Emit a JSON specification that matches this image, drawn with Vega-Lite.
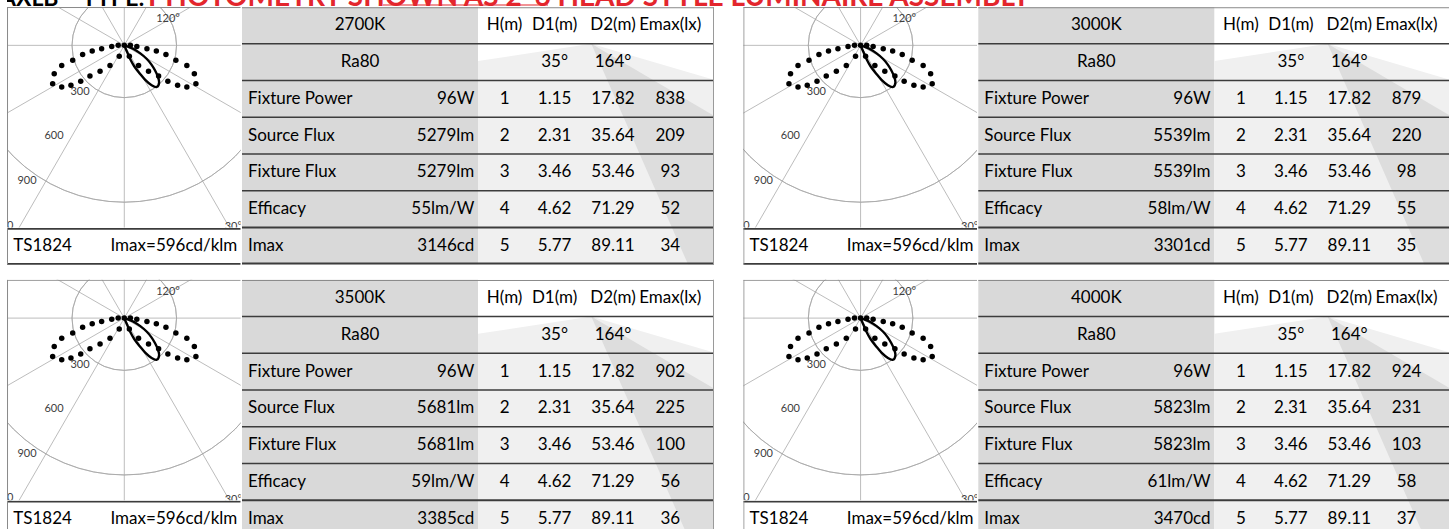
{
"$schema":"https://vega.github.io/schema/vega-lite/v6.json",
"padding":{"left":7,"top":0,"right":0,"bottom":0},
"background":"white",
"config":{"view":{"stroke":null},"font":"Lato","text":{"font":"Lato"}},
"datasets":{
"cells":[
{"p":"2700K","row":1,"label":"2700K","H":"H(m)","D1":"D1(m)","D2":"D2(m)","Emax":"Emax(lx)"},
{"p":"2700K","row":2,"label":"Ra80","D1":"35°","D2":"164°"},
{"p":"2700K","row":3,"label":"Fixture Power","value":"96W","H":1,"D1":1.15,"D2":17.82,"Emax":838},
{"p":"2700K","row":4,"label":"Source Flux","value":"5279lm","H":2,"D1":2.31,"D2":35.64,"Emax":209},
{"p":"2700K","row":5,"label":"Fixture Flux","value":"5279lm","H":3,"D1":3.46,"D2":53.46,"Emax":93},
{"p":"2700K","row":6,"label":"Efficacy","value":"55lm/W","H":4,"D1":4.62,"D2":71.29,"Emax":52},
{"p":"2700K","row":7,"label":"Imax","value":"3146cd","H":5,"D1":5.77,"D2":89.11,"Emax":34},
{"p":"3000K","row":1,"label":"3000K","H":"H(m)","D1":"D1(m)","D2":"D2(m)","Emax":"Emax(lx)"},
{"p":"3000K","row":2,"label":"Ra80","D1":"35°","D2":"164°"},
{"p":"3000K","row":3,"label":"Fixture Power","value":"96W","H":1,"D1":1.15,"D2":17.82,"Emax":879},
{"p":"3000K","row":4,"label":"Source Flux","value":"5539lm","H":2,"D1":2.31,"D2":35.64,"Emax":220},
{"p":"3000K","row":5,"label":"Fixture Flux","value":"5539lm","H":3,"D1":3.46,"D2":53.46,"Emax":98},
{"p":"3000K","row":6,"label":"Efficacy","value":"58lm/W","H":4,"D1":4.62,"D2":71.29,"Emax":55},
{"p":"3000K","row":7,"label":"Imax","value":"3301cd","H":5,"D1":5.77,"D2":89.11,"Emax":35},
{"p":"3500K","row":1,"label":"3500K","H":"H(m)","D1":"D1(m)","D2":"D2(m)","Emax":"Emax(lx)"},
{"p":"3500K","row":2,"label":"Ra80","D1":"35°","D2":"164°"},
{"p":"3500K","row":3,"label":"Fixture Power","value":"96W","H":1,"D1":1.15,"D2":17.82,"Emax":902},
{"p":"3500K","row":4,"label":"Source Flux","value":"5681lm","H":2,"D1":2.31,"D2":35.64,"Emax":225},
{"p":"3500K","row":5,"label":"Fixture Flux","value":"5681lm","H":3,"D1":3.46,"D2":53.46,"Emax":100},
{"p":"3500K","row":6,"label":"Efficacy","value":"59lm/W","H":4,"D1":4.62,"D2":71.29,"Emax":56},
{"p":"3500K","row":7,"label":"Imax","value":"3385cd","H":5,"D1":5.77,"D2":89.11,"Emax":36},
{"p":"4000K","row":1,"label":"4000K","H":"H(m)","D1":"D1(m)","D2":"D2(m)","Emax":"Emax(lx)"},
{"p":"4000K","row":2,"label":"Ra80","D1":"35°","D2":"164°"},
{"p":"4000K","row":3,"label":"Fixture Power","value":"96W","H":1,"D1":1.15,"D2":17.82,"Emax":924},
{"p":"4000K","row":4,"label":"Source Flux","value":"5823lm","H":2,"D1":2.31,"D2":35.64,"Emax":231},
{"p":"4000K","row":5,"label":"Fixture Flux","value":"5823lm","H":3,"D1":3.46,"D2":53.46,"Emax":103},
{"p":"4000K","row":6,"label":"Efficacy","value":"61lm/W","H":4,"D1":4.62,"D2":71.29,"Emax":58},
{"p":"4000K","row":7,"label":"Imax","value":"3470cd","H":5,"D1":5.77,"D2":89.11,"Emax":37}
],
"footer":[
{"p":"2700K","code":"TS1824","imaxrel":"Imax=596cd/klm"},
{"p":"3000K","code":"TS1824","imaxrel":"Imax=596cd/klm"},
{"p":"3500K","code":"TS1824","imaxrel":"Imax=596cd/klm"},
{"p":"4000K","code":"TS1824","imaxrel":"Imax=596cd/klm"}
],
"rings":[{"r":300},{"r":600},{"r":900},{"r":1200}],
"rays":[
{"x":0,"y":-2000,"x2":0,"y2":2000},
{"x":1000,"y":-1732,"x2":-1000,"y2":1732},
{"x":1732,"y":-1000,"x2":-1732,"y2":1000},
{"x":2000,"y":0,"x2":-2000,"y2":0},
{"x":1732,"y":1000,"x2":-1732,"y2":-1000},
{"x":1000,"y":1732,"x2":-1000,"y2":-1732}
],
"plabels":[
{"x":-254,"y":-268,"t":"300"},{"x":-403,"y":-520,"t":"600"},{"x":-558,"y":-778,"t":"900"},{"x":-710,"y":-1034,"t":"1200"},
{"x":251,"y":151,"t":"120°"},{"x":626,"y":-1044,"t":"30°"}
],
"dots":[
{"x":0,"y":0},{"x":-35,"y":0},{"x":35,"y":0},
{"x":-72,"y":-6},{"x":-130,"y":-20},{"x":-184,"y":-33},{"x":-239,"y":-52},{"x":-296,"y":-86},{"x":-359,"y":-115},{"x":-402,"y":-163},{"x":-411,"y":-220},
{"x":-359,"y":-239},{"x":-306,"y":-229},{"x":-250,"y":-206},{"x":-197,"y":-176},{"x":-139,"y":-149},{"x":-82,"y":-115},{"x":-29,"y":-63},
{"x":72,"y":-6},{"x":130,"y":-20},{"x":184,"y":-33},{"x":239,"y":-52},{"x":296,"y":-86},{"x":359,"y":-115},{"x":402,"y":-163},{"x":411,"y":-220},
{"x":359,"y":-239},{"x":306,"y":-229},{"x":250,"y":-206},{"x":197,"y":-176},{"x":139,"y":-149},{"x":82,"y":-115},{"x":29,"y":-63}
],
"beam":[
{"i":0,"x":0,"y":0},{"i":1,"x":17,"y":-40},{"i":2,"x":33,"y":-77},{"i":3,"x":57,"y":-120},{"i":4,"x":90,"y":-163},{"i":5,"x":120,"y":-198},{"i":6,"x":157,"y":-229},{"i":7,"x":186,"y":-239},{"i":8,"x":200,"y":-212},{"i":9,"x":192,"y":-178},{"i":10,"x":176,"y":-143},{"i":11,"x":155,"y":-109},{"i":12,"x":128,"y":-77},{"i":13,"x":92,"y":-46},{"i":14,"x":52,"y":-20},{"i":15,"x":0,"y":0}
],
"light":[{"y":1.5,"l":349.3,"r":349.3},{"y":1.97,"l":236,"r":408},{"y":2.48,"l":236,"r":472},{"y":7.5,"l":236,"r":472}],
"dark":[{"y":1.5,"l":349.3,"r":349.3},{"y":3.46,"l":380.9,"r":472},{"y":7.5,"l":446,"r":472}],
"title":[{"part":"black","t":"AXLB – TYPE:"},{"part":"red","t":"PHOTOMETRY SHOWN AS 2' 6 HEAD STYLE LUMINAIRE ASSEMBLY"}]
},
"spacing":13.75,
"vconcat":[
{"spacing":0,"vconcat":[
{"width":1439.7,"height":6,"data":{"name":"title"},
 "layer":[
  {"transform":[{"filter":"datum.part == 'black'"}],"mark":{"type":"text","align":"left","baseline":"alphabetic","fontSize":23,"fontWeight":"bold","fill":"#000000","clip":true},
   "encoding":{"x":{"datum":-7,"type":"quantitative","scale":{"domain":[0,1439.7],"nice":false,"zero":false},"axis":null},"y":{"datum":5.5,"type":"quantitative","scale":{"domain":[0,6],"reverse":true,"nice":false,"zero":false},"axis":null},"text":{"field":"t","type":"nominal"}}},
  {"transform":[{"filter":"datum.part == 'red'"}],"mark":{"type":"text","align":"left","baseline":"alphabetic","fontSize":28,"fontWeight":"bold","fill":"#e3262d","clip":true},
   "encoding":{"x":{"datum":141,"type":"quantitative","scale":{"domain":[0,1439.7],"nice":false,"zero":false},"axis":null},"y":{"datum":5.5,"type":"quantitative","scale":{"domain":[0,6],"reverse":true,"nice":false,"zero":false},"axis":null},"text":{"field":"t","type":"nominal"}}},
  {"data":{"values":[{"u":1}]},"mark":{"type":"rule","stroke":"#e3262d","strokeWidth":1.2,"clip":true},
   "encoding":{"x":{"datum":376,"type":"quantitative","scale":{"domain":[0,1439.7],"nice":false,"zero":false},"axis":null},"x2":{"datum":541},"y":{"datum":5.0,"type":"quantitative","scale":{"domain":[0,6],"reverse":true,"nice":false,"zero":false},"axis":null}}}
 ]},
{"spacing":28.3,"hconcat":[
 {"spacing":0,"hconcat":[
  {"spacing":0,"bounds":"flush","vconcat":[
   {"width":233.7,"height":220.5,"layer":[
    {"data":{"name":"rings"},"mark":{"type":"arc","filled":false,"stroke":"#a6a6a6","strokeWidth":0.75,"clip":true,"theta":0,"theta2":6.2832},"encoding":{"x":{"datum":0,"type":"quantitative","scale":{"domain":[-673,668],"nice":false,"zero":false},"axis":null},"y":{"datum":0,"type":"quantitative","scale":{"domain":[-1045,220],"nice":false,"zero":false},"axis":null},"radius":{"field":"r","type":"quantitative","scale":{"type":"linear","domain":[0,1341],"range":[0,233.7],"zero":true},"legend":null}}},
    {"data":{"name":"rays"},"mark":{"type":"rule","stroke":"#a6a6a6","strokeWidth":0.75,"clip":true},"encoding":{"x":{"field":"x","type":"quantitative","scale":{"domain":[-673,668],"nice":false,"zero":false},"axis":null},"y":{"field":"y","type":"quantitative","scale":{"domain":[-1045,220],"nice":false,"zero":false},"axis":null},"x2":{"field":"x2"},"y2":{"field":"y2"}}},
    {"data":{"name":"plabels"},"mark":{"type":"text","fontSize":11,"fill":"#404040","clip":true,"baseline":"middle"},"encoding":{"x":{"field":"x","type":"quantitative","scale":{"domain":[-673,668],"nice":false,"zero":false},"axis":null},"y":{"field":"y","type":"quantitative","scale":{"domain":[-1045,220],"nice":false,"zero":false},"axis":null},"text":{"field":"t","type":"nominal"}}},
    {"data":{"name":"dots"},"mark":{"type":"point","filled":true,"fill":"#000000","opacity":1,"size":30,"clip":true},"encoding":{"x":{"field":"x","type":"quantitative","scale":{"domain":[-673,668],"nice":false,"zero":false},"axis":null},"y":{"field":"y","type":"quantitative","scale":{"domain":[-1045,220],"nice":false,"zero":false},"axis":null}}},
    {"data":{"name":"beam"},"mark":{"type":"line","stroke":"#000000","strokeWidth":2.4,"interpolate":"cardinal","clip":true},"encoding":{"x":{"field":"x","type":"quantitative","scale":{"domain":[-673,668],"nice":false,"zero":false},"axis":null},"y":{"field":"y","type":"quantitative","scale":{"domain":[-1045,220],"nice":false,"zero":false},"axis":null},"order":{"field":"i","type":"quantitative"}}},
    {"data":{"values":[{"e":"left"}]},"mark":{"type":"rule","stroke":"#8a8a8a","strokeWidth":1,"clip":true},"encoding":{"x":{"datum":-670,"type":"quantitative","scale":{"domain":[-673,668],"nice":false,"zero":false},"axis":null},"y":{"datum":220,"type":"quantitative","scale":{"domain":[-1045,220],"nice":false,"zero":false},"axis":null},"y2":{"datum":-1045}}},
    {"data":{"values":[{"e":"top"}]},"mark":{"type":"rule","stroke":"#8a8a8a","strokeWidth":1,"clip":true},"encoding":{"x":{"datum":-673,"type":"quantitative","scale":{"domain":[-673,668],"nice":false,"zero":false},"axis":null},"x2":{"datum":668},"y":{"datum":217,"type":"quantitative","scale":{"domain":[-1045,220],"nice":false,"zero":false},"axis":null}}}
   ]},
   {"width":233.7,"height":36.75,"data":{"name":"footer"},"transform":[{"filter":"datum.p == '2700K'"}],"layer":[
    {"mark":{"type":"text","align":"left","baseline":"middle","fontSize":17,"fill":"#000000"},"encoding":{"x":{"datum":6.3,"type":"quantitative","scale":{"domain":[0,233.7],"nice":false,"zero":false},"axis":null},"y":{"datum":0.5,"type":"quantitative","scale":{"domain":[0,1],"reverse":true,"nice":false,"zero":false},"axis":null},"text":{"field":"code","type":"nominal"}}},
    {"mark":{"type":"text","align":"right","baseline":"middle","fontSize":17,"fill":"#000000"},"encoding":{"x":{"datum":230.3,"type":"quantitative","scale":{"domain":[0,233.7],"nice":false,"zero":false},"axis":null},"y":{"datum":0.5,"type":"quantitative","scale":{"domain":[0,1],"reverse":true,"nice":false,"zero":false},"axis":null},"text":{"field":"imaxrel","type":"nominal"}}},
    {"mark":{"type":"rule","stroke":"#3c3c3c","strokeWidth":2,"clip":true},"encoding":{"x":{"datum":0,"type":"quantitative","scale":{"domain":[0,233.7],"nice":false,"zero":false},"axis":null},"x2":{"datum":233.7},"y":{"datum":0.02,"type":"quantitative","scale":{"domain":[0,1],"reverse":true,"nice":false,"zero":false},"axis":null}}},
    {"mark":{"type":"rule","stroke":"#3c3c3c","strokeWidth":2,"clip":true},"encoding":{"x":{"datum":0,"type":"quantitative","scale":{"domain":[0,233.7],"nice":false,"zero":false},"axis":null},"x2":{"datum":233.7},"y":{"datum":0.98,"type":"quantitative","scale":{"domain":[0,1],"reverse":true,"nice":false,"zero":false},"axis":null}}},
    {"mark":{"type":"rule","stroke":"#8a8a8a","strokeWidth":1,"clip":true},"encoding":{"x":{"datum":0.5,"type":"quantitative","scale":{"domain":[0,233.7],"nice":false,"zero":false},"axis":null},"y":{"datum":0,"type":"quantitative","scale":{"domain":[0,1],"reverse":true,"nice":false,"zero":false},"axis":null},"y2":{"datum":1}}}
   ]}
  ]},
  {"width":472,"height":257.25,"data":{"name":"cells"},"transform":[{"filter":"datum.p == '2700K'"}],"resolve":{"scale":{"y":"independent"}},"layer":[
   {"mark":{"type":"rect","fill":"#d9d9d9"},"encoding":{"x":{"datum":0,"type":"quantitative","scale":{"domain":[0,472],"nice":false,"zero":false},"axis":null},"x2":{"datum":236},"y":{"field":"row","type":"ordinal","scale":{"type":"band","domain":[1,2,3,4,5,6,7],"paddingInner":0,"paddingOuter":0},"axis":null}}},
   {"data":{"name":"light"},"mark":{"type":"area","orient":"horizontal","fill":"#f0f0f0","opacity":1},"encoding":{"y":{"field":"y","type":"quantitative","scale":{"domain":[0.5,7.5],"reverse":true,"nice":false,"zero":false},"axis":null},"x":{"field":"l","type":"quantitative","scale":{"domain":[0,472],"nice":false,"zero":false},"axis":null},"x2":{"field":"r"}}},
   {"data":{"name":"dark"},"mark":{"type":"area","orient":"horizontal","fill":"#dddddd","opacity":1},"encoding":{"y":{"field":"y","type":"quantitative","scale":{"domain":[0.5,7.5],"reverse":true,"nice":false,"zero":false},"axis":null},"x":{"field":"l","type":"quantitative","scale":{"domain":[0,472],"nice":false,"zero":false},"axis":null},"x2":{"field":"r"}}},
   {"transform":[{"filter":"datum.row >= 2 && datum.row <= 6"}],"mark":{"type":"rule","stroke":"#3c3c3c","strokeWidth":1.5},"encoding":{"x":{"datum":0,"type":"quantitative","scale":{"domain":[0,472],"nice":false,"zero":false},"axis":null},"x2":{"datum":472},"y":{"field":"row","type":"ordinal","bandPosition":0,"scale":{"type":"band","domain":[1,2,3,4,5,6,7],"paddingInner":0,"paddingOuter":0},"axis":null}}},
   {"transform":[{"filter":"datum.row == 7"}],"mark":{"type":"rule","stroke":"#3c3c3c","strokeWidth":2},"encoding":{"x":{"datum":0,"type":"quantitative","scale":{"domain":[0,472],"nice":false,"zero":false},"axis":null},"x2":{"datum":472},"y":{"field":"row","type":"ordinal","bandPosition":0,"scale":{"type":"band","domain":[1,2,3,4,5,6,7],"paddingInner":0,"paddingOuter":0},"axis":null}}},
   {"transform":[{"filter":"datum.row == 7"}],"mark":{"type":"rule","stroke":"#3c3c3c","strokeWidth":2},"encoding":{"x":{"datum":0,"type":"quantitative","scale":{"domain":[0,472],"nice":false,"zero":false},"axis":null},"x2":{"datum":472},"y":{"field":"row","type":"ordinal","bandPosition":0.98,"scale":{"type":"band","domain":[1,2,3,4,5,6,7],"paddingInner":0,"paddingOuter":0},"axis":null}}},
   {"transform":[{"filter":"datum.row == 1"}],"mark":{"type":"rule","stroke":"#8a8a8a","strokeWidth":1},"encoding":{"x":{"datum":0,"type":"quantitative","scale":{"domain":[0,472],"nice":false,"zero":false},"axis":null},"x2":{"datum":472},"y":{"field":"row","type":"ordinal","bandPosition":0.02,"scale":{"type":"band","domain":[1,2,3,4,5,6,7],"paddingInner":0,"paddingOuter":0},"axis":null}}},
   {"data":{"values":[{"e":"right"}]},"mark":{"type":"rule","stroke":"#9a9a9a","strokeWidth":1},"encoding":{"x":{"datum":471.5,"type":"quantitative","scale":{"domain":[0,472],"nice":false,"zero":false},"axis":null},"y":{"datum":0.5,"type":"quantitative","scale":{"domain":[0.5,7.5],"reverse":true,"nice":false,"zero":false},"axis":null},"y2":{"datum":7.5}}},
   {"transform":[{"filter":"datum.row <= 2"}],"mark":{"type":"text","align":"center","baseline":"middle","fontSize":17,"fill":"#000000"},"encoding":{"x":{"datum":118,"type":"quantitative","scale":{"domain":[0,472],"nice":false,"zero":false},"axis":null},"y":{"field":"row","type":"ordinal","bandPosition":0.5,"scale":{"type":"band","domain":[1,2,3,4,5,6,7],"paddingInner":0,"paddingOuter":0},"axis":null},"text":{"field":"label","type":"nominal"}}},
   {"transform":[{"filter":"datum.row >= 3"}],"mark":{"type":"text","align":"left","baseline":"middle","fontSize":17,"fill":"#000000"},"encoding":{"x":{"datum":6,"type":"quantitative","scale":{"domain":[0,472],"nice":false,"zero":false},"axis":null},"y":{"field":"row","type":"ordinal","bandPosition":0.5,"scale":{"type":"band","domain":[1,2,3,4,5,6,7],"paddingInner":0,"paddingOuter":0},"axis":null},"text":{"field":"label","type":"nominal"}}},
   {"transform":[{"filter":"isValid(datum.value)"}],"mark":{"type":"text","align":"right","baseline":"middle","fontSize":17,"fill":"#000000"},"encoding":{"x":{"datum":232.3,"type":"quantitative","scale":{"domain":[0,472],"nice":false,"zero":false},"axis":null},"y":{"field":"row","type":"ordinal","bandPosition":0.5,"scale":{"type":"band","domain":[1,2,3,4,5,6,7],"paddingInner":0,"paddingOuter":0},"axis":null},"text":{"field":"value","type":"nominal"}}},
   {"transform":[{"filter":"isValid(datum.H)"}],"mark":{"type":"text","align":"center","baseline":"middle","fontSize":17,"fill":"#000000"},"encoding":{"x":{"datum":262.6,"type":"quantitative","scale":{"domain":[0,472],"nice":false,"zero":false},"axis":null},"y":{"field":"row","type":"ordinal","bandPosition":0.5,"scale":{"type":"band","domain":[1,2,3,4,5,6,7],"paddingInner":0,"paddingOuter":0},"axis":null},"text":{"field":"H","type":"nominal"}}},
   {"transform":[{"filter":"isValid(datum.D1)"}],"mark":{"type":"text","align":"center","baseline":"middle","fontSize":17,"fill":"#000000"},"encoding":{"x":{"datum":312.6,"type":"quantitative","scale":{"domain":[0,472],"nice":false,"zero":false},"axis":null},"y":{"field":"row","type":"ordinal","bandPosition":0.5,"scale":{"type":"band","domain":[1,2,3,4,5,6,7],"paddingInner":0,"paddingOuter":0},"axis":null},"text":{"field":"D1","type":"nominal"}}},
   {"transform":[{"filter":"isValid(datum.D2)"}],"mark":{"type":"text","align":"center","baseline":"middle","fontSize":17,"fill":"#000000"},"encoding":{"x":{"datum":371,"type":"quantitative","scale":{"domain":[0,472],"nice":false,"zero":false},"axis":null},"y":{"field":"row","type":"ordinal","bandPosition":0.5,"scale":{"type":"band","domain":[1,2,3,4,5,6,7],"paddingInner":0,"paddingOuter":0},"axis":null},"text":{"field":"D2","type":"nominal"}}},
   {"transform":[{"filter":"isValid(datum.Emax)"}],"mark":{"type":"text","align":"center","baseline":"middle","fontSize":17,"fill":"#000000"},"encoding":{"x":{"datum":428.3,"type":"quantitative","scale":{"domain":[0,472],"nice":false,"zero":false},"axis":null},"y":{"field":"row","type":"ordinal","bandPosition":0.5,"scale":{"type":"band","domain":[1,2,3,4,5,6,7],"paddingInner":0,"paddingOuter":0},"axis":null},"text":{"field":"Emax","type":"nominal"}}}
  ]}
 ]},
 {"spacing":0,"hconcat":[
  {"spacing":0,"bounds":"flush","vconcat":[
   {"width":233.7,"height":220.5,"layer":[
    {"data":{"name":"rings"},"mark":{"type":"arc","filled":false,"stroke":"#a6a6a6","strokeWidth":0.75,"clip":true,"theta":0,"theta2":6.2832},"encoding":{"x":{"datum":0,"type":"quantitative","scale":{"domain":[-673,668],"nice":false,"zero":false},"axis":null},"y":{"datum":0,"type":"quantitative","scale":{"domain":[-1045,220],"nice":false,"zero":false},"axis":null},"radius":{"field":"r","type":"quantitative","scale":{"type":"linear","domain":[0,1341],"range":[0,233.7],"zero":true},"legend":null}}},
    {"data":{"name":"rays"},"mark":{"type":"rule","stroke":"#a6a6a6","strokeWidth":0.75,"clip":true},"encoding":{"x":{"field":"x","type":"quantitative","scale":{"domain":[-673,668],"nice":false,"zero":false},"axis":null},"y":{"field":"y","type":"quantitative","scale":{"domain":[-1045,220],"nice":false,"zero":false},"axis":null},"x2":{"field":"x2"},"y2":{"field":"y2"}}},
    {"data":{"name":"plabels"},"mark":{"type":"text","fontSize":11,"fill":"#404040","clip":true,"baseline":"middle"},"encoding":{"x":{"field":"x","type":"quantitative","scale":{"domain":[-673,668],"nice":false,"zero":false},"axis":null},"y":{"field":"y","type":"quantitative","scale":{"domain":[-1045,220],"nice":false,"zero":false},"axis":null},"text":{"field":"t","type":"nominal"}}},
    {"data":{"name":"dots"},"mark":{"type":"point","filled":true,"fill":"#000000","opacity":1,"size":30,"clip":true},"encoding":{"x":{"field":"x","type":"quantitative","scale":{"domain":[-673,668],"nice":false,"zero":false},"axis":null},"y":{"field":"y","type":"quantitative","scale":{"domain":[-1045,220],"nice":false,"zero":false},"axis":null}}},
    {"data":{"name":"beam"},"mark":{"type":"line","stroke":"#000000","strokeWidth":2.4,"interpolate":"cardinal","clip":true},"encoding":{"x":{"field":"x","type":"quantitative","scale":{"domain":[-673,668],"nice":false,"zero":false},"axis":null},"y":{"field":"y","type":"quantitative","scale":{"domain":[-1045,220],"nice":false,"zero":false},"axis":null},"order":{"field":"i","type":"quantitative"}}},
    {"data":{"values":[{"e":"left"}]},"mark":{"type":"rule","stroke":"#8a8a8a","strokeWidth":1,"clip":true},"encoding":{"x":{"datum":-670,"type":"quantitative","scale":{"domain":[-673,668],"nice":false,"zero":false},"axis":null},"y":{"datum":220,"type":"quantitative","scale":{"domain":[-1045,220],"nice":false,"zero":false},"axis":null},"y2":{"datum":-1045}}},
    {"data":{"values":[{"e":"top"}]},"mark":{"type":"rule","stroke":"#8a8a8a","strokeWidth":1,"clip":true},"encoding":{"x":{"datum":-673,"type":"quantitative","scale":{"domain":[-673,668],"nice":false,"zero":false},"axis":null},"x2":{"datum":668},"y":{"datum":217,"type":"quantitative","scale":{"domain":[-1045,220],"nice":false,"zero":false},"axis":null}}}
   ]},
   {"width":233.7,"height":36.75,"data":{"name":"footer"},"transform":[{"filter":"datum.p == '3000K'"}],"layer":[
    {"mark":{"type":"text","align":"left","baseline":"middle","fontSize":17,"fill":"#000000"},"encoding":{"x":{"datum":6.3,"type":"quantitative","scale":{"domain":[0,233.7],"nice":false,"zero":false},"axis":null},"y":{"datum":0.5,"type":"quantitative","scale":{"domain":[0,1],"reverse":true,"nice":false,"zero":false},"axis":null},"text":{"field":"code","type":"nominal"}}},
    {"mark":{"type":"text","align":"right","baseline":"middle","fontSize":17,"fill":"#000000"},"encoding":{"x":{"datum":230.3,"type":"quantitative","scale":{"domain":[0,233.7],"nice":false,"zero":false},"axis":null},"y":{"datum":0.5,"type":"quantitative","scale":{"domain":[0,1],"reverse":true,"nice":false,"zero":false},"axis":null},"text":{"field":"imaxrel","type":"nominal"}}},
    {"mark":{"type":"rule","stroke":"#3c3c3c","strokeWidth":2,"clip":true},"encoding":{"x":{"datum":0,"type":"quantitative","scale":{"domain":[0,233.7],"nice":false,"zero":false},"axis":null},"x2":{"datum":233.7},"y":{"datum":0.02,"type":"quantitative","scale":{"domain":[0,1],"reverse":true,"nice":false,"zero":false},"axis":null}}},
    {"mark":{"type":"rule","stroke":"#3c3c3c","strokeWidth":2,"clip":true},"encoding":{"x":{"datum":0,"type":"quantitative","scale":{"domain":[0,233.7],"nice":false,"zero":false},"axis":null},"x2":{"datum":233.7},"y":{"datum":0.98,"type":"quantitative","scale":{"domain":[0,1],"reverse":true,"nice":false,"zero":false},"axis":null}}},
    {"mark":{"type":"rule","stroke":"#8a8a8a","strokeWidth":1,"clip":true},"encoding":{"x":{"datum":0.5,"type":"quantitative","scale":{"domain":[0,233.7],"nice":false,"zero":false},"axis":null},"y":{"datum":0,"type":"quantitative","scale":{"domain":[0,1],"reverse":true,"nice":false,"zero":false},"axis":null},"y2":{"datum":1}}}
   ]}
  ]},
  {"width":472,"height":257.25,"data":{"name":"cells"},"transform":[{"filter":"datum.p == '3000K'"}],"resolve":{"scale":{"y":"independent"}},"layer":[
   {"mark":{"type":"rect","fill":"#d9d9d9"},"encoding":{"x":{"datum":0,"type":"quantitative","scale":{"domain":[0,472],"nice":false,"zero":false},"axis":null},"x2":{"datum":236},"y":{"field":"row","type":"ordinal","scale":{"type":"band","domain":[1,2,3,4,5,6,7],"paddingInner":0,"paddingOuter":0},"axis":null}}},
   {"data":{"name":"light"},"mark":{"type":"area","orient":"horizontal","fill":"#f0f0f0","opacity":1},"encoding":{"y":{"field":"y","type":"quantitative","scale":{"domain":[0.5,7.5],"reverse":true,"nice":false,"zero":false},"axis":null},"x":{"field":"l","type":"quantitative","scale":{"domain":[0,472],"nice":false,"zero":false},"axis":null},"x2":{"field":"r"}}},
   {"data":{"name":"dark"},"mark":{"type":"area","orient":"horizontal","fill":"#dddddd","opacity":1},"encoding":{"y":{"field":"y","type":"quantitative","scale":{"domain":[0.5,7.5],"reverse":true,"nice":false,"zero":false},"axis":null},"x":{"field":"l","type":"quantitative","scale":{"domain":[0,472],"nice":false,"zero":false},"axis":null},"x2":{"field":"r"}}},
   {"transform":[{"filter":"datum.row >= 2 && datum.row <= 6"}],"mark":{"type":"rule","stroke":"#3c3c3c","strokeWidth":1.5},"encoding":{"x":{"datum":0,"type":"quantitative","scale":{"domain":[0,472],"nice":false,"zero":false},"axis":null},"x2":{"datum":472},"y":{"field":"row","type":"ordinal","bandPosition":0,"scale":{"type":"band","domain":[1,2,3,4,5,6,7],"paddingInner":0,"paddingOuter":0},"axis":null}}},
   {"transform":[{"filter":"datum.row == 7"}],"mark":{"type":"rule","stroke":"#3c3c3c","strokeWidth":2},"encoding":{"x":{"datum":0,"type":"quantitative","scale":{"domain":[0,472],"nice":false,"zero":false},"axis":null},"x2":{"datum":472},"y":{"field":"row","type":"ordinal","bandPosition":0,"scale":{"type":"band","domain":[1,2,3,4,5,6,7],"paddingInner":0,"paddingOuter":0},"axis":null}}},
   {"transform":[{"filter":"datum.row == 7"}],"mark":{"type":"rule","stroke":"#3c3c3c","strokeWidth":2},"encoding":{"x":{"datum":0,"type":"quantitative","scale":{"domain":[0,472],"nice":false,"zero":false},"axis":null},"x2":{"datum":472},"y":{"field":"row","type":"ordinal","bandPosition":0.98,"scale":{"type":"band","domain":[1,2,3,4,5,6,7],"paddingInner":0,"paddingOuter":0},"axis":null}}},
   {"transform":[{"filter":"datum.row == 1"}],"mark":{"type":"rule","stroke":"#8a8a8a","strokeWidth":1},"encoding":{"x":{"datum":0,"type":"quantitative","scale":{"domain":[0,472],"nice":false,"zero":false},"axis":null},"x2":{"datum":472},"y":{"field":"row","type":"ordinal","bandPosition":0.02,"scale":{"type":"band","domain":[1,2,3,4,5,6,7],"paddingInner":0,"paddingOuter":0},"axis":null}}},
   {"data":{"values":[{"e":"right"}]},"mark":{"type":"rule","stroke":"#9a9a9a","strokeWidth":1},"encoding":{"x":{"datum":471.5,"type":"quantitative","scale":{"domain":[0,472],"nice":false,"zero":false},"axis":null},"y":{"datum":0.5,"type":"quantitative","scale":{"domain":[0.5,7.5],"reverse":true,"nice":false,"zero":false},"axis":null},"y2":{"datum":7.5}}},
   {"transform":[{"filter":"datum.row <= 2"}],"mark":{"type":"text","align":"center","baseline":"middle","fontSize":17,"fill":"#000000"},"encoding":{"x":{"datum":118,"type":"quantitative","scale":{"domain":[0,472],"nice":false,"zero":false},"axis":null},"y":{"field":"row","type":"ordinal","bandPosition":0.5,"scale":{"type":"band","domain":[1,2,3,4,5,6,7],"paddingInner":0,"paddingOuter":0},"axis":null},"text":{"field":"label","type":"nominal"}}},
   {"transform":[{"filter":"datum.row >= 3"}],"mark":{"type":"text","align":"left","baseline":"middle","fontSize":17,"fill":"#000000"},"encoding":{"x":{"datum":6,"type":"quantitative","scale":{"domain":[0,472],"nice":false,"zero":false},"axis":null},"y":{"field":"row","type":"ordinal","bandPosition":0.5,"scale":{"type":"band","domain":[1,2,3,4,5,6,7],"paddingInner":0,"paddingOuter":0},"axis":null},"text":{"field":"label","type":"nominal"}}},
   {"transform":[{"filter":"isValid(datum.value)"}],"mark":{"type":"text","align":"right","baseline":"middle","fontSize":17,"fill":"#000000"},"encoding":{"x":{"datum":232.3,"type":"quantitative","scale":{"domain":[0,472],"nice":false,"zero":false},"axis":null},"y":{"field":"row","type":"ordinal","bandPosition":0.5,"scale":{"type":"band","domain":[1,2,3,4,5,6,7],"paddingInner":0,"paddingOuter":0},"axis":null},"text":{"field":"value","type":"nominal"}}},
   {"transform":[{"filter":"isValid(datum.H)"}],"mark":{"type":"text","align":"center","baseline":"middle","fontSize":17,"fill":"#000000"},"encoding":{"x":{"datum":262.6,"type":"quantitative","scale":{"domain":[0,472],"nice":false,"zero":false},"axis":null},"y":{"field":"row","type":"ordinal","bandPosition":0.5,"scale":{"type":"band","domain":[1,2,3,4,5,6,7],"paddingInner":0,"paddingOuter":0},"axis":null},"text":{"field":"H","type":"nominal"}}},
   {"transform":[{"filter":"isValid(datum.D1)"}],"mark":{"type":"text","align":"center","baseline":"middle","fontSize":17,"fill":"#000000"},"encoding":{"x":{"datum":312.6,"type":"quantitative","scale":{"domain":[0,472],"nice":false,"zero":false},"axis":null},"y":{"field":"row","type":"ordinal","bandPosition":0.5,"scale":{"type":"band","domain":[1,2,3,4,5,6,7],"paddingInner":0,"paddingOuter":0},"axis":null},"text":{"field":"D1","type":"nominal"}}},
   {"transform":[{"filter":"isValid(datum.D2)"}],"mark":{"type":"text","align":"center","baseline":"middle","fontSize":17,"fill":"#000000"},"encoding":{"x":{"datum":371,"type":"quantitative","scale":{"domain":[0,472],"nice":false,"zero":false},"axis":null},"y":{"field":"row","type":"ordinal","bandPosition":0.5,"scale":{"type":"band","domain":[1,2,3,4,5,6,7],"paddingInner":0,"paddingOuter":0},"axis":null},"text":{"field":"D2","type":"nominal"}}},
   {"transform":[{"filter":"isValid(datum.Emax)"}],"mark":{"type":"text","align":"center","baseline":"middle","fontSize":17,"fill":"#000000"},"encoding":{"x":{"datum":428.3,"type":"quantitative","scale":{"domain":[0,472],"nice":false,"zero":false},"axis":null},"y":{"field":"row","type":"ordinal","bandPosition":0.5,"scale":{"type":"band","domain":[1,2,3,4,5,6,7],"paddingInner":0,"paddingOuter":0},"axis":null},"text":{"field":"Emax","type":"nominal"}}}
  ]}
 ]}
]}
]},
{"spacing":28.3,"hconcat":[
 {"spacing":0,"hconcat":[
  {"spacing":0,"bounds":"flush","vconcat":[
   {"width":233.7,"height":220.5,"layer":[
    {"data":{"name":"rings"},"mark":{"type":"arc","filled":false,"stroke":"#a6a6a6","strokeWidth":0.75,"clip":true,"theta":0,"theta2":6.2832},"encoding":{"x":{"datum":0,"type":"quantitative","scale":{"domain":[-673,668],"nice":false,"zero":false},"axis":null},"y":{"datum":0,"type":"quantitative","scale":{"domain":[-1045,220],"nice":false,"zero":false},"axis":null},"radius":{"field":"r","type":"quantitative","scale":{"type":"linear","domain":[0,1341],"range":[0,233.7],"zero":true},"legend":null}}},
    {"data":{"name":"rays"},"mark":{"type":"rule","stroke":"#a6a6a6","strokeWidth":0.75,"clip":true},"encoding":{"x":{"field":"x","type":"quantitative","scale":{"domain":[-673,668],"nice":false,"zero":false},"axis":null},"y":{"field":"y","type":"quantitative","scale":{"domain":[-1045,220],"nice":false,"zero":false},"axis":null},"x2":{"field":"x2"},"y2":{"field":"y2"}}},
    {"data":{"name":"plabels"},"mark":{"type":"text","fontSize":11,"fill":"#404040","clip":true,"baseline":"middle"},"encoding":{"x":{"field":"x","type":"quantitative","scale":{"domain":[-673,668],"nice":false,"zero":false},"axis":null},"y":{"field":"y","type":"quantitative","scale":{"domain":[-1045,220],"nice":false,"zero":false},"axis":null},"text":{"field":"t","type":"nominal"}}},
    {"data":{"name":"dots"},"mark":{"type":"point","filled":true,"fill":"#000000","opacity":1,"size":30,"clip":true},"encoding":{"x":{"field":"x","type":"quantitative","scale":{"domain":[-673,668],"nice":false,"zero":false},"axis":null},"y":{"field":"y","type":"quantitative","scale":{"domain":[-1045,220],"nice":false,"zero":false},"axis":null}}},
    {"data":{"name":"beam"},"mark":{"type":"line","stroke":"#000000","strokeWidth":2.4,"interpolate":"cardinal","clip":true},"encoding":{"x":{"field":"x","type":"quantitative","scale":{"domain":[-673,668],"nice":false,"zero":false},"axis":null},"y":{"field":"y","type":"quantitative","scale":{"domain":[-1045,220],"nice":false,"zero":false},"axis":null},"order":{"field":"i","type":"quantitative"}}},
    {"data":{"values":[{"e":"left"}]},"mark":{"type":"rule","stroke":"#8a8a8a","strokeWidth":1,"clip":true},"encoding":{"x":{"datum":-670,"type":"quantitative","scale":{"domain":[-673,668],"nice":false,"zero":false},"axis":null},"y":{"datum":220,"type":"quantitative","scale":{"domain":[-1045,220],"nice":false,"zero":false},"axis":null},"y2":{"datum":-1045}}},
    {"data":{"values":[{"e":"top"}]},"mark":{"type":"rule","stroke":"#8a8a8a","strokeWidth":1,"clip":true},"encoding":{"x":{"datum":-673,"type":"quantitative","scale":{"domain":[-673,668],"nice":false,"zero":false},"axis":null},"x2":{"datum":668},"y":{"datum":217,"type":"quantitative","scale":{"domain":[-1045,220],"nice":false,"zero":false},"axis":null}}}
   ]},
   {"width":233.7,"height":36.75,"data":{"name":"footer"},"transform":[{"filter":"datum.p == '3500K'"}],"layer":[
    {"mark":{"type":"text","align":"left","baseline":"middle","fontSize":17,"fill":"#000000"},"encoding":{"x":{"datum":6.3,"type":"quantitative","scale":{"domain":[0,233.7],"nice":false,"zero":false},"axis":null},"y":{"datum":0.5,"type":"quantitative","scale":{"domain":[0,1],"reverse":true,"nice":false,"zero":false},"axis":null},"text":{"field":"code","type":"nominal"}}},
    {"mark":{"type":"text","align":"right","baseline":"middle","fontSize":17,"fill":"#000000"},"encoding":{"x":{"datum":230.3,"type":"quantitative","scale":{"domain":[0,233.7],"nice":false,"zero":false},"axis":null},"y":{"datum":0.5,"type":"quantitative","scale":{"domain":[0,1],"reverse":true,"nice":false,"zero":false},"axis":null},"text":{"field":"imaxrel","type":"nominal"}}},
    {"mark":{"type":"rule","stroke":"#3c3c3c","strokeWidth":2,"clip":true},"encoding":{"x":{"datum":0,"type":"quantitative","scale":{"domain":[0,233.7],"nice":false,"zero":false},"axis":null},"x2":{"datum":233.7},"y":{"datum":0.02,"type":"quantitative","scale":{"domain":[0,1],"reverse":true,"nice":false,"zero":false},"axis":null}}},
    {"mark":{"type":"rule","stroke":"#3c3c3c","strokeWidth":2,"clip":true},"encoding":{"x":{"datum":0,"type":"quantitative","scale":{"domain":[0,233.7],"nice":false,"zero":false},"axis":null},"x2":{"datum":233.7},"y":{"datum":0.98,"type":"quantitative","scale":{"domain":[0,1],"reverse":true,"nice":false,"zero":false},"axis":null}}},
    {"mark":{"type":"rule","stroke":"#8a8a8a","strokeWidth":1,"clip":true},"encoding":{"x":{"datum":0.5,"type":"quantitative","scale":{"domain":[0,233.7],"nice":false,"zero":false},"axis":null},"y":{"datum":0,"type":"quantitative","scale":{"domain":[0,1],"reverse":true,"nice":false,"zero":false},"axis":null},"y2":{"datum":1}}}
   ]}
  ]},
  {"width":472,"height":257.25,"data":{"name":"cells"},"transform":[{"filter":"datum.p == '3500K'"}],"resolve":{"scale":{"y":"independent"}},"layer":[
   {"mark":{"type":"rect","fill":"#d9d9d9"},"encoding":{"x":{"datum":0,"type":"quantitative","scale":{"domain":[0,472],"nice":false,"zero":false},"axis":null},"x2":{"datum":236},"y":{"field":"row","type":"ordinal","scale":{"type":"band","domain":[1,2,3,4,5,6,7],"paddingInner":0,"paddingOuter":0},"axis":null}}},
   {"data":{"name":"light"},"mark":{"type":"area","orient":"horizontal","fill":"#f0f0f0","opacity":1},"encoding":{"y":{"field":"y","type":"quantitative","scale":{"domain":[0.5,7.5],"reverse":true,"nice":false,"zero":false},"axis":null},"x":{"field":"l","type":"quantitative","scale":{"domain":[0,472],"nice":false,"zero":false},"axis":null},"x2":{"field":"r"}}},
   {"data":{"name":"dark"},"mark":{"type":"area","orient":"horizontal","fill":"#dddddd","opacity":1},"encoding":{"y":{"field":"y","type":"quantitative","scale":{"domain":[0.5,7.5],"reverse":true,"nice":false,"zero":false},"axis":null},"x":{"field":"l","type":"quantitative","scale":{"domain":[0,472],"nice":false,"zero":false},"axis":null},"x2":{"field":"r"}}},
   {"transform":[{"filter":"datum.row >= 2 && datum.row <= 6"}],"mark":{"type":"rule","stroke":"#3c3c3c","strokeWidth":1.5},"encoding":{"x":{"datum":0,"type":"quantitative","scale":{"domain":[0,472],"nice":false,"zero":false},"axis":null},"x2":{"datum":472},"y":{"field":"row","type":"ordinal","bandPosition":0,"scale":{"type":"band","domain":[1,2,3,4,5,6,7],"paddingInner":0,"paddingOuter":0},"axis":null}}},
   {"transform":[{"filter":"datum.row == 7"}],"mark":{"type":"rule","stroke":"#3c3c3c","strokeWidth":2},"encoding":{"x":{"datum":0,"type":"quantitative","scale":{"domain":[0,472],"nice":false,"zero":false},"axis":null},"x2":{"datum":472},"y":{"field":"row","type":"ordinal","bandPosition":0,"scale":{"type":"band","domain":[1,2,3,4,5,6,7],"paddingInner":0,"paddingOuter":0},"axis":null}}},
   {"transform":[{"filter":"datum.row == 7"}],"mark":{"type":"rule","stroke":"#3c3c3c","strokeWidth":2},"encoding":{"x":{"datum":0,"type":"quantitative","scale":{"domain":[0,472],"nice":false,"zero":false},"axis":null},"x2":{"datum":472},"y":{"field":"row","type":"ordinal","bandPosition":0.98,"scale":{"type":"band","domain":[1,2,3,4,5,6,7],"paddingInner":0,"paddingOuter":0},"axis":null}}},
   {"transform":[{"filter":"datum.row == 1"}],"mark":{"type":"rule","stroke":"#8a8a8a","strokeWidth":1},"encoding":{"x":{"datum":0,"type":"quantitative","scale":{"domain":[0,472],"nice":false,"zero":false},"axis":null},"x2":{"datum":472},"y":{"field":"row","type":"ordinal","bandPosition":0.02,"scale":{"type":"band","domain":[1,2,3,4,5,6,7],"paddingInner":0,"paddingOuter":0},"axis":null}}},
   {"data":{"values":[{"e":"right"}]},"mark":{"type":"rule","stroke":"#9a9a9a","strokeWidth":1},"encoding":{"x":{"datum":471.5,"type":"quantitative","scale":{"domain":[0,472],"nice":false,"zero":false},"axis":null},"y":{"datum":0.5,"type":"quantitative","scale":{"domain":[0.5,7.5],"reverse":true,"nice":false,"zero":false},"axis":null},"y2":{"datum":7.5}}},
   {"transform":[{"filter":"datum.row <= 2"}],"mark":{"type":"text","align":"center","baseline":"middle","fontSize":17,"fill":"#000000"},"encoding":{"x":{"datum":118,"type":"quantitative","scale":{"domain":[0,472],"nice":false,"zero":false},"axis":null},"y":{"field":"row","type":"ordinal","bandPosition":0.5,"scale":{"type":"band","domain":[1,2,3,4,5,6,7],"paddingInner":0,"paddingOuter":0},"axis":null},"text":{"field":"label","type":"nominal"}}},
   {"transform":[{"filter":"datum.row >= 3"}],"mark":{"type":"text","align":"left","baseline":"middle","fontSize":17,"fill":"#000000"},"encoding":{"x":{"datum":6,"type":"quantitative","scale":{"domain":[0,472],"nice":false,"zero":false},"axis":null},"y":{"field":"row","type":"ordinal","bandPosition":0.5,"scale":{"type":"band","domain":[1,2,3,4,5,6,7],"paddingInner":0,"paddingOuter":0},"axis":null},"text":{"field":"label","type":"nominal"}}},
   {"transform":[{"filter":"isValid(datum.value)"}],"mark":{"type":"text","align":"right","baseline":"middle","fontSize":17,"fill":"#000000"},"encoding":{"x":{"datum":232.3,"type":"quantitative","scale":{"domain":[0,472],"nice":false,"zero":false},"axis":null},"y":{"field":"row","type":"ordinal","bandPosition":0.5,"scale":{"type":"band","domain":[1,2,3,4,5,6,7],"paddingInner":0,"paddingOuter":0},"axis":null},"text":{"field":"value","type":"nominal"}}},
   {"transform":[{"filter":"isValid(datum.H)"}],"mark":{"type":"text","align":"center","baseline":"middle","fontSize":17,"fill":"#000000"},"encoding":{"x":{"datum":262.6,"type":"quantitative","scale":{"domain":[0,472],"nice":false,"zero":false},"axis":null},"y":{"field":"row","type":"ordinal","bandPosition":0.5,"scale":{"type":"band","domain":[1,2,3,4,5,6,7],"paddingInner":0,"paddingOuter":0},"axis":null},"text":{"field":"H","type":"nominal"}}},
   {"transform":[{"filter":"isValid(datum.D1)"}],"mark":{"type":"text","align":"center","baseline":"middle","fontSize":17,"fill":"#000000"},"encoding":{"x":{"datum":312.6,"type":"quantitative","scale":{"domain":[0,472],"nice":false,"zero":false},"axis":null},"y":{"field":"row","type":"ordinal","bandPosition":0.5,"scale":{"type":"band","domain":[1,2,3,4,5,6,7],"paddingInner":0,"paddingOuter":0},"axis":null},"text":{"field":"D1","type":"nominal"}}},
   {"transform":[{"filter":"isValid(datum.D2)"}],"mark":{"type":"text","align":"center","baseline":"middle","fontSize":17,"fill":"#000000"},"encoding":{"x":{"datum":371,"type":"quantitative","scale":{"domain":[0,472],"nice":false,"zero":false},"axis":null},"y":{"field":"row","type":"ordinal","bandPosition":0.5,"scale":{"type":"band","domain":[1,2,3,4,5,6,7],"paddingInner":0,"paddingOuter":0},"axis":null},"text":{"field":"D2","type":"nominal"}}},
   {"transform":[{"filter":"isValid(datum.Emax)"}],"mark":{"type":"text","align":"center","baseline":"middle","fontSize":17,"fill":"#000000"},"encoding":{"x":{"datum":428.3,"type":"quantitative","scale":{"domain":[0,472],"nice":false,"zero":false},"axis":null},"y":{"field":"row","type":"ordinal","bandPosition":0.5,"scale":{"type":"band","domain":[1,2,3,4,5,6,7],"paddingInner":0,"paddingOuter":0},"axis":null},"text":{"field":"Emax","type":"nominal"}}}
  ]}
 ]},
 {"spacing":0,"hconcat":[
  {"spacing":0,"bounds":"flush","vconcat":[
   {"width":233.7,"height":220.5,"layer":[
    {"data":{"name":"rings"},"mark":{"type":"arc","filled":false,"stroke":"#a6a6a6","strokeWidth":0.75,"clip":true,"theta":0,"theta2":6.2832},"encoding":{"x":{"datum":0,"type":"quantitative","scale":{"domain":[-673,668],"nice":false,"zero":false},"axis":null},"y":{"datum":0,"type":"quantitative","scale":{"domain":[-1045,220],"nice":false,"zero":false},"axis":null},"radius":{"field":"r","type":"quantitative","scale":{"type":"linear","domain":[0,1341],"range":[0,233.7],"zero":true},"legend":null}}},
    {"data":{"name":"rays"},"mark":{"type":"rule","stroke":"#a6a6a6","strokeWidth":0.75,"clip":true},"encoding":{"x":{"field":"x","type":"quantitative","scale":{"domain":[-673,668],"nice":false,"zero":false},"axis":null},"y":{"field":"y","type":"quantitative","scale":{"domain":[-1045,220],"nice":false,"zero":false},"axis":null},"x2":{"field":"x2"},"y2":{"field":"y2"}}},
    {"data":{"name":"plabels"},"mark":{"type":"text","fontSize":11,"fill":"#404040","clip":true,"baseline":"middle"},"encoding":{"x":{"field":"x","type":"quantitative","scale":{"domain":[-673,668],"nice":false,"zero":false},"axis":null},"y":{"field":"y","type":"quantitative","scale":{"domain":[-1045,220],"nice":false,"zero":false},"axis":null},"text":{"field":"t","type":"nominal"}}},
    {"data":{"name":"dots"},"mark":{"type":"point","filled":true,"fill":"#000000","opacity":1,"size":30,"clip":true},"encoding":{"x":{"field":"x","type":"quantitative","scale":{"domain":[-673,668],"nice":false,"zero":false},"axis":null},"y":{"field":"y","type":"quantitative","scale":{"domain":[-1045,220],"nice":false,"zero":false},"axis":null}}},
    {"data":{"name":"beam"},"mark":{"type":"line","stroke":"#000000","strokeWidth":2.4,"interpolate":"cardinal","clip":true},"encoding":{"x":{"field":"x","type":"quantitative","scale":{"domain":[-673,668],"nice":false,"zero":false},"axis":null},"y":{"field":"y","type":"quantitative","scale":{"domain":[-1045,220],"nice":false,"zero":false},"axis":null},"order":{"field":"i","type":"quantitative"}}},
    {"data":{"values":[{"e":"left"}]},"mark":{"type":"rule","stroke":"#8a8a8a","strokeWidth":1,"clip":true},"encoding":{"x":{"datum":-670,"type":"quantitative","scale":{"domain":[-673,668],"nice":false,"zero":false},"axis":null},"y":{"datum":220,"type":"quantitative","scale":{"domain":[-1045,220],"nice":false,"zero":false},"axis":null},"y2":{"datum":-1045}}},
    {"data":{"values":[{"e":"top"}]},"mark":{"type":"rule","stroke":"#8a8a8a","strokeWidth":1,"clip":true},"encoding":{"x":{"datum":-673,"type":"quantitative","scale":{"domain":[-673,668],"nice":false,"zero":false},"axis":null},"x2":{"datum":668},"y":{"datum":217,"type":"quantitative","scale":{"domain":[-1045,220],"nice":false,"zero":false},"axis":null}}}
   ]},
   {"width":233.7,"height":36.75,"data":{"name":"footer"},"transform":[{"filter":"datum.p == '4000K'"}],"layer":[
    {"mark":{"type":"text","align":"left","baseline":"middle","fontSize":17,"fill":"#000000"},"encoding":{"x":{"datum":6.3,"type":"quantitative","scale":{"domain":[0,233.7],"nice":false,"zero":false},"axis":null},"y":{"datum":0.5,"type":"quantitative","scale":{"domain":[0,1],"reverse":true,"nice":false,"zero":false},"axis":null},"text":{"field":"code","type":"nominal"}}},
    {"mark":{"type":"text","align":"right","baseline":"middle","fontSize":17,"fill":"#000000"},"encoding":{"x":{"datum":230.3,"type":"quantitative","scale":{"domain":[0,233.7],"nice":false,"zero":false},"axis":null},"y":{"datum":0.5,"type":"quantitative","scale":{"domain":[0,1],"reverse":true,"nice":false,"zero":false},"axis":null},"text":{"field":"imaxrel","type":"nominal"}}},
    {"mark":{"type":"rule","stroke":"#3c3c3c","strokeWidth":2,"clip":true},"encoding":{"x":{"datum":0,"type":"quantitative","scale":{"domain":[0,233.7],"nice":false,"zero":false},"axis":null},"x2":{"datum":233.7},"y":{"datum":0.02,"type":"quantitative","scale":{"domain":[0,1],"reverse":true,"nice":false,"zero":false},"axis":null}}},
    {"mark":{"type":"rule","stroke":"#3c3c3c","strokeWidth":2,"clip":true},"encoding":{"x":{"datum":0,"type":"quantitative","scale":{"domain":[0,233.7],"nice":false,"zero":false},"axis":null},"x2":{"datum":233.7},"y":{"datum":0.98,"type":"quantitative","scale":{"domain":[0,1],"reverse":true,"nice":false,"zero":false},"axis":null}}},
    {"mark":{"type":"rule","stroke":"#8a8a8a","strokeWidth":1,"clip":true},"encoding":{"x":{"datum":0.5,"type":"quantitative","scale":{"domain":[0,233.7],"nice":false,"zero":false},"axis":null},"y":{"datum":0,"type":"quantitative","scale":{"domain":[0,1],"reverse":true,"nice":false,"zero":false},"axis":null},"y2":{"datum":1}}}
   ]}
  ]},
  {"width":472,"height":257.25,"data":{"name":"cells"},"transform":[{"filter":"datum.p == '4000K'"}],"resolve":{"scale":{"y":"independent"}},"layer":[
   {"mark":{"type":"rect","fill":"#d9d9d9"},"encoding":{"x":{"datum":0,"type":"quantitative","scale":{"domain":[0,472],"nice":false,"zero":false},"axis":null},"x2":{"datum":236},"y":{"field":"row","type":"ordinal","scale":{"type":"band","domain":[1,2,3,4,5,6,7],"paddingInner":0,"paddingOuter":0},"axis":null}}},
   {"data":{"name":"light"},"mark":{"type":"area","orient":"horizontal","fill":"#f0f0f0","opacity":1},"encoding":{"y":{"field":"y","type":"quantitative","scale":{"domain":[0.5,7.5],"reverse":true,"nice":false,"zero":false},"axis":null},"x":{"field":"l","type":"quantitative","scale":{"domain":[0,472],"nice":false,"zero":false},"axis":null},"x2":{"field":"r"}}},
   {"data":{"name":"dark"},"mark":{"type":"area","orient":"horizontal","fill":"#dddddd","opacity":1},"encoding":{"y":{"field":"y","type":"quantitative","scale":{"domain":[0.5,7.5],"reverse":true,"nice":false,"zero":false},"axis":null},"x":{"field":"l","type":"quantitative","scale":{"domain":[0,472],"nice":false,"zero":false},"axis":null},"x2":{"field":"r"}}},
   {"transform":[{"filter":"datum.row >= 2 && datum.row <= 6"}],"mark":{"type":"rule","stroke":"#3c3c3c","strokeWidth":1.5},"encoding":{"x":{"datum":0,"type":"quantitative","scale":{"domain":[0,472],"nice":false,"zero":false},"axis":null},"x2":{"datum":472},"y":{"field":"row","type":"ordinal","bandPosition":0,"scale":{"type":"band","domain":[1,2,3,4,5,6,7],"paddingInner":0,"paddingOuter":0},"axis":null}}},
   {"transform":[{"filter":"datum.row == 7"}],"mark":{"type":"rule","stroke":"#3c3c3c","strokeWidth":2},"encoding":{"x":{"datum":0,"type":"quantitative","scale":{"domain":[0,472],"nice":false,"zero":false},"axis":null},"x2":{"datum":472},"y":{"field":"row","type":"ordinal","bandPosition":0,"scale":{"type":"band","domain":[1,2,3,4,5,6,7],"paddingInner":0,"paddingOuter":0},"axis":null}}},
   {"transform":[{"filter":"datum.row == 7"}],"mark":{"type":"rule","stroke":"#3c3c3c","strokeWidth":2},"encoding":{"x":{"datum":0,"type":"quantitative","scale":{"domain":[0,472],"nice":false,"zero":false},"axis":null},"x2":{"datum":472},"y":{"field":"row","type":"ordinal","bandPosition":0.98,"scale":{"type":"band","domain":[1,2,3,4,5,6,7],"paddingInner":0,"paddingOuter":0},"axis":null}}},
   {"transform":[{"filter":"datum.row == 1"}],"mark":{"type":"rule","stroke":"#8a8a8a","strokeWidth":1},"encoding":{"x":{"datum":0,"type":"quantitative","scale":{"domain":[0,472],"nice":false,"zero":false},"axis":null},"x2":{"datum":472},"y":{"field":"row","type":"ordinal","bandPosition":0.02,"scale":{"type":"band","domain":[1,2,3,4,5,6,7],"paddingInner":0,"paddingOuter":0},"axis":null}}},
   {"data":{"values":[{"e":"right"}]},"mark":{"type":"rule","stroke":"#9a9a9a","strokeWidth":1},"encoding":{"x":{"datum":471.5,"type":"quantitative","scale":{"domain":[0,472],"nice":false,"zero":false},"axis":null},"y":{"datum":0.5,"type":"quantitative","scale":{"domain":[0.5,7.5],"reverse":true,"nice":false,"zero":false},"axis":null},"y2":{"datum":7.5}}},
   {"transform":[{"filter":"datum.row <= 2"}],"mark":{"type":"text","align":"center","baseline":"middle","fontSize":17,"fill":"#000000"},"encoding":{"x":{"datum":118,"type":"quantitative","scale":{"domain":[0,472],"nice":false,"zero":false},"axis":null},"y":{"field":"row","type":"ordinal","bandPosition":0.5,"scale":{"type":"band","domain":[1,2,3,4,5,6,7],"paddingInner":0,"paddingOuter":0},"axis":null},"text":{"field":"label","type":"nominal"}}},
   {"transform":[{"filter":"datum.row >= 3"}],"mark":{"type":"text","align":"left","baseline":"middle","fontSize":17,"fill":"#000000"},"encoding":{"x":{"datum":6,"type":"quantitative","scale":{"domain":[0,472],"nice":false,"zero":false},"axis":null},"y":{"field":"row","type":"ordinal","bandPosition":0.5,"scale":{"type":"band","domain":[1,2,3,4,5,6,7],"paddingInner":0,"paddingOuter":0},"axis":null},"text":{"field":"label","type":"nominal"}}},
   {"transform":[{"filter":"isValid(datum.value)"}],"mark":{"type":"text","align":"right","baseline":"middle","fontSize":17,"fill":"#000000"},"encoding":{"x":{"datum":232.3,"type":"quantitative","scale":{"domain":[0,472],"nice":false,"zero":false},"axis":null},"y":{"field":"row","type":"ordinal","bandPosition":0.5,"scale":{"type":"band","domain":[1,2,3,4,5,6,7],"paddingInner":0,"paddingOuter":0},"axis":null},"text":{"field":"value","type":"nominal"}}},
   {"transform":[{"filter":"isValid(datum.H)"}],"mark":{"type":"text","align":"center","baseline":"middle","fontSize":17,"fill":"#000000"},"encoding":{"x":{"datum":262.6,"type":"quantitative","scale":{"domain":[0,472],"nice":false,"zero":false},"axis":null},"y":{"field":"row","type":"ordinal","bandPosition":0.5,"scale":{"type":"band","domain":[1,2,3,4,5,6,7],"paddingInner":0,"paddingOuter":0},"axis":null},"text":{"field":"H","type":"nominal"}}},
   {"transform":[{"filter":"isValid(datum.D1)"}],"mark":{"type":"text","align":"center","baseline":"middle","fontSize":17,"fill":"#000000"},"encoding":{"x":{"datum":312.6,"type":"quantitative","scale":{"domain":[0,472],"nice":false,"zero":false},"axis":null},"y":{"field":"row","type":"ordinal","bandPosition":0.5,"scale":{"type":"band","domain":[1,2,3,4,5,6,7],"paddingInner":0,"paddingOuter":0},"axis":null},"text":{"field":"D1","type":"nominal"}}},
   {"transform":[{"filter":"isValid(datum.D2)"}],"mark":{"type":"text","align":"center","baseline":"middle","fontSize":17,"fill":"#000000"},"encoding":{"x":{"datum":371,"type":"quantitative","scale":{"domain":[0,472],"nice":false,"zero":false},"axis":null},"y":{"field":"row","type":"ordinal","bandPosition":0.5,"scale":{"type":"band","domain":[1,2,3,4,5,6,7],"paddingInner":0,"paddingOuter":0},"axis":null},"text":{"field":"D2","type":"nominal"}}},
   {"transform":[{"filter":"isValid(datum.Emax)"}],"mark":{"type":"text","align":"center","baseline":"middle","fontSize":17,"fill":"#000000"},"encoding":{"x":{"datum":428.3,"type":"quantitative","scale":{"domain":[0,472],"nice":false,"zero":false},"axis":null},"y":{"field":"row","type":"ordinal","bandPosition":0.5,"scale":{"type":"band","domain":[1,2,3,4,5,6,7],"paddingInner":0,"paddingOuter":0},"axis":null},"text":{"field":"Emax","type":"nominal"}}}
  ]}
 ]}
]}
]}
